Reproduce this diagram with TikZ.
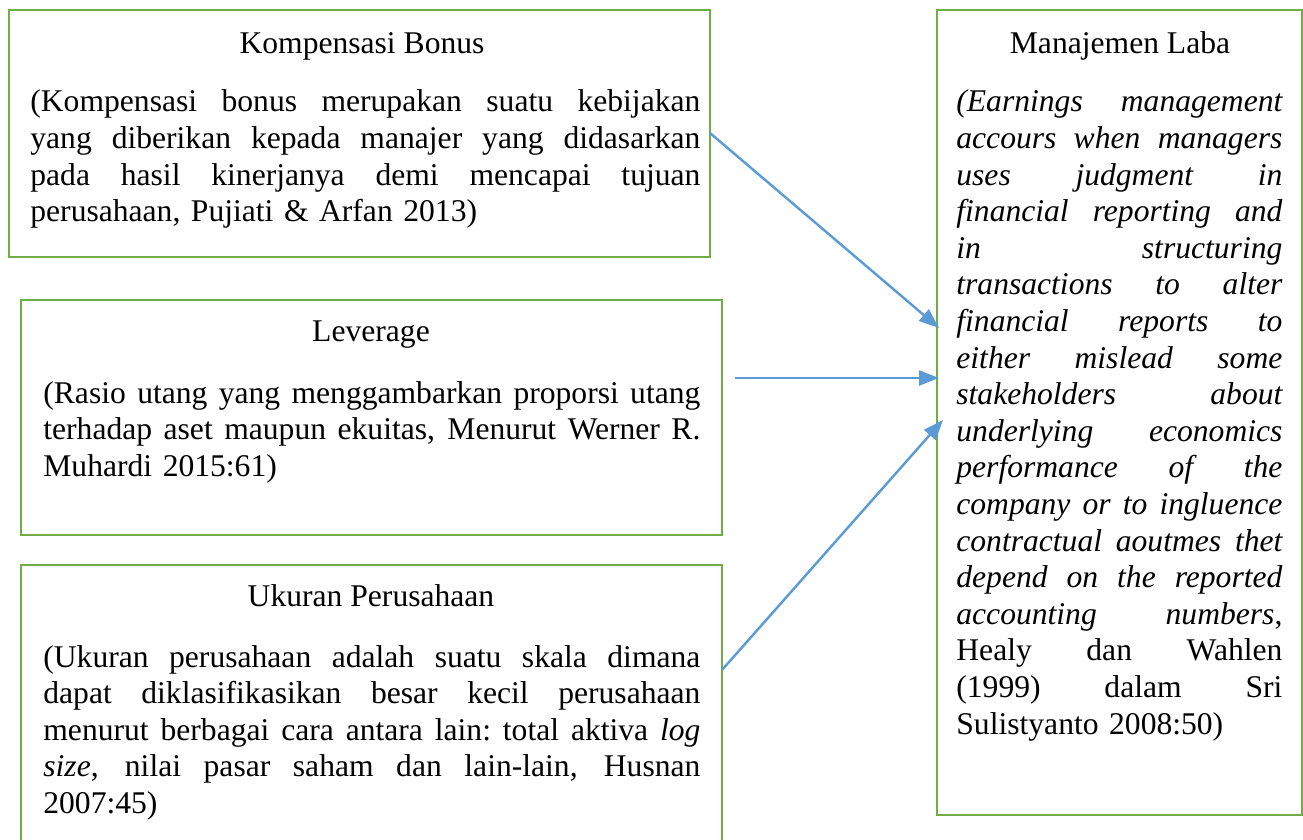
\documentclass[tikz,border=0pt]{standalone}
\usepackage{fontspec}
\setmainfont{Liberation Serif}
\usetikzlibrary{arrows.meta,fit}
\definecolor{boxgreen}{HTML}{70AD47}
\definecolor{arrowblue}{HTML}{5B9BD5}
\newcommand\jl[1]{\leavevmode\hbox to\hsize{\spaceskip=\fontdimen2\font plus 1fil\relax\xspaceskip=\spaceskip #1}\\}
\begin{document}
\begin{tikzpicture}[x=0.5pt,y=-0.5pt,
  box/.style={draw=boxgreen,line width=1.4pt,inner sep=0pt},
  body/.style={anchor=base west,inner sep=0pt,align=left,font=\fontsize{15.8}{18.3}\selectfont},
  ttl/.style={anchor=base,inner sep=0pt,font=\fontsize{15.8}{18.3}\selectfont},
  conn/.style={draw=arrowblue,line width=1.2pt,-{Triangle[length=10pt,width=7.5pt]}}]
\useasboundingbox (0,0) rectangle (1303,840);
\clip (0,0) rectangle (1303,840);
\fill[white] (0,0) rectangle (1303,840);
% boxes
\node[box,fit={(9,10) (710,257)}] (b1) {};
\node[box,fit={(21,300) (722,535)}] (b2) {};
\node[box,fit={(21,565) (722,860)}] (b3) {};
\node[box,fit={(937,10) (1302,815)}] (b4) {};
% box 1
\node[ttl] (t1) at (362,54) {Kompensasi Bonus};
\node[body,text width=335pt] (d1) at (30,112) {%
\jl{(Kompensasi bonus merupakan suatu kebijakan}%
\jl{yang diberikan kepada manajer yang didasarkan}%
\jl{pada hasil kinerjanya demi mencapai tujuan}%
perusahaan, Pujiati \& Arfan 2013)};
% box 2
\node[ttl] (t2) at (371,342) {Leverage};
\node[body,text width=328.5pt] (d2) at (43,403) {%
\jl{(Rasio utang yang menggambarkan proporsi utang}%
\jl{terhadap aset maupun ekuitas, Menurut Werner R.}%
Muhardi 2015:61)};
% box 3
\node[ttl] (t3) at (371,606) {Ukuran Perusahaan};
\node[body,text width=328.5pt] (d3) at (43,667) {%
\jl{(Ukuran perusahaan adalah suatu skala dimana}%
\jl{dapat diklasifikasikan besar kecil perusahaan}%
\jl{menurut berbagai cara antara lain: total aktiva \textit{log}}%
\jl{\textit{size}, nilai pasar saham dan lain-lain, Husnan}%
2007:45)};
% box 4
\node[ttl] (t4) at (1120,54) {Manajemen Laba};
\node[body,text width=163pt] (d4) at (956,112) {%
\jl{\itshape (Earnings management}%
\jl{\itshape accours when managers}%
\jl{\itshape uses judgment in}%
\jl{\itshape financial reporting and}%
\jl{\itshape in structuring}%
\jl{\itshape transactions to alter}%
\jl{\itshape financial reports to}%
\jl{\itshape either mislead some}%
\jl{\itshape stakeholders about}%
\jl{\itshape underlying economics}%
\jl{\itshape performance of the}%
\jl{\itshape company or to ingluence}%
\jl{\itshape contractual aoutmes thet}%
\jl{\itshape depend on the reported}%
\jl{\textit{accounting numbers},}%
\jl{Healy dan Wahlen}%
\jl{(1999) dalam Sri}%
Sulistyanto 2008:50)};
% connectors
\coordinate (s1) at (710,133);
\coordinate (e1) at (939,328);
\coordinate (s2) at (735,378);
\coordinate (e2) at (939,378);
\coordinate (s3) at (722,670);
\coordinate (e3) at (943,420);
\draw[conn] (s1) -- (e1);
\draw[conn] (s2) -- (e2);
\draw[conn] (s3) -- (e3);
\end{tikzpicture}
\end{document}
